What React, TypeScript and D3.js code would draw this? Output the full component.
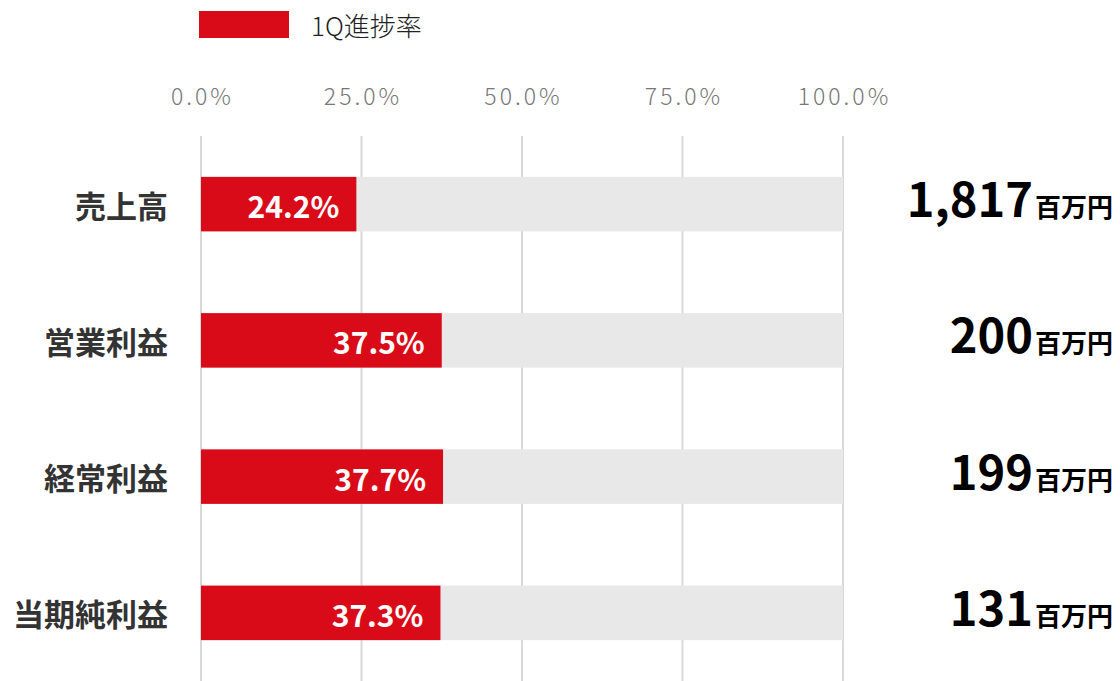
import React from 'react';
import * as d3 from 'd3';

const categories = ['売上高', '営業利益', '経常利益', '当期純利益'];
const progress = [24.2, 37.5, 37.7, 37.3];
const amounts = ['1,817', '200', '199', '131'];
const ticks = [0, 25, 50, 75, 100];
const seriesName = '1Q進捗率';
const unit = '百万円';

const W = 1120;
const H = 681;
const FONT = '"Noto Sans CJK JP", "Noto Sans", sans-serif';
const RED = '#d90b18';

export default function App() {
	const x = d3.scaleLinear().domain([0, 100]).range([201, 843]);
	const y = d3.scaleBand().domain(categories).range([136, 681]).paddingInner(0.6).paddingOuter(0.3);
	const tickSpacing = 3;

	return (
		<svg width={W} height={H} style={{ position: 'absolute', left: 0, top: 0 }} fontFamily={FONT}>
			{/* legend */}
			<rect x={199} y={11} width={90} height={27} fill={RED} />
			<text x={311} y={24} dominantBaseline="central" fontSize={26} fill="#222" fontWeight={300}>{seriesName}</text>

			{/* axis labels */}
			{ticks.map((t) => (
				<text key={t} x={x(t) + tickSpacing / 2} y={95} textAnchor="middle" dominantBaseline="central"
					fontSize={23} letterSpacing={tickSpacing} fill="#777" fontWeight={300}>
					{t.toFixed(1)}%
				</text>
			))}

			{/* grid */}
			{ticks.map((t) => (
				<line key={'g' + t} x1={x(t)} x2={x(t)} y1={136} y2={H} stroke="#d9d9d9" strokeWidth={2} />
			))}

			{categories.map((c, i) => {
				const y0 = y(c) as number;
				const bh = y.bandwidth();
				const cy = y0 + bh / 2;
				return (
					<g key={c}>
						<rect x={x(0)} y={y0} width={x(100) - x(0)} height={bh} fill="#e8e8e8" />
						<rect x={x(0)} y={y0} width={x(progress[i]) - x(0)} height={bh} fill={RED} />
						<text x={x(progress[i]) - 17} y={cy + 1} textAnchor="end" dominantBaseline="central" fontSize={30} fontWeight={700} fill="#fff">
							{progress[i].toFixed(1)}%
						</text>
						<text x={168} y={cy} textAnchor="end" dominantBaseline="central" fontSize={31} fontWeight={700} fill="#333">
							{c}
						</text>
						<text x={1113} y={cy + 13} textAnchor="end" fill="#000" fontWeight={700}>
							<tspan fontSize={47}>{amounts[i]}</tspan>
							<tspan fontSize={26} dx={2}>{unit}</tspan>
						</text>
					</g>
				);
			})}
		</svg>
	);
}
